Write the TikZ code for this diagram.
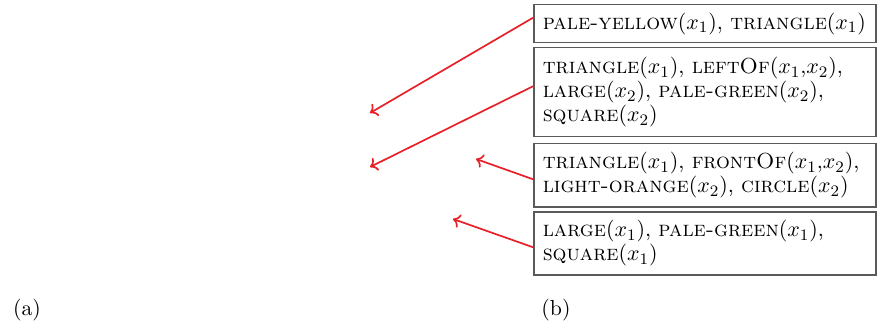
\documentclass[tikz,border=0pt]{standalone}
\usetikzlibrary{arrows.meta}
\definecolor{arrowred}{RGB}{232,32,40}
\definecolor{boxgray}{RGB}{90,90,90}
\begin{document}
\begin{tikzpicture}[x=0.5pt,y=-0.5pt,
  factbox/.style={draw=boxgray,line width=0.75pt,anchor=north west,align=left,
    font=\fontsize{10.9pt}{12pt}\selectfont,
    text width=162pt,inner xsep=4.5pt,inner ysep=0pt,minimum width=171pt},
  pointer/.style={draw=arrowred,line width=0.85pt,-{To[length=3.5pt,width=7pt]}},
  caption/.style={inner sep=0pt,font=\fontsize{10.9pt}{12pt}\selectfont}]
\useasboundingbox (0,0) rectangle (878,326);

% fact boxes (each printed line kept unbroken)
\node[factbox,minimum height=19pt] (b1) at (533,4)
  {\mbox{\textsc{pale-yellow}$(x_1)$, \textsc{triangle}$(x_1)$}};
\node[factbox,minimum height=44.5pt] (b2) at (533,47)
  {\mbox{\textsc{triangle}$(x_1)$, \textsc{leftOf}$(x_1$,$x_2)$,}\\
   \mbox{\textsc{large}$(x_2)$, \textsc{pale-green}$(x_2)$,}\\
   \mbox{\textsc{square}$(x_2)$}};
\node[factbox,minimum height=31.5pt] (b3) at (533,143)
  {\mbox{\textsc{triangle}$(x_1)$, \textsc{frontOf}$(x_1$,$x_2)$,}\\
   \mbox{\textsc{light-orange}$(x_2)$, \textsc{circle}$(x_2)$}};
\node[factbox,minimum height=31.5pt] (b4) at (533,211)
  {\mbox{\textsc{large}$(x_1)$, \textsc{pale-green}$(x_1)$,}\\
   \mbox{\textsc{square}$(x_1)$}};

% arrow targets
\coordinate (t1) at (370,113);
\coordinate (t2) at (370,167);
\coordinate (t3) at (476,159);
\coordinate (t4) at (453,219);

\draw[pointer] ([yshift=3pt]b1.west) -- (t1);
\draw[pointer] ([yshift=3pt]b2.west) -- (t2);
\draw[pointer] ([yshift=-2pt]b3.west) -- (t3);
\draw[pointer] ([yshift=-2pt]b4.west) -- (t4);

% sub-figure captions
\node[caption] (ca) at (27,310) {(a)};
\node[caption] (cb) at (556,310) {(b)};
\end{tikzpicture}
\end{document}
